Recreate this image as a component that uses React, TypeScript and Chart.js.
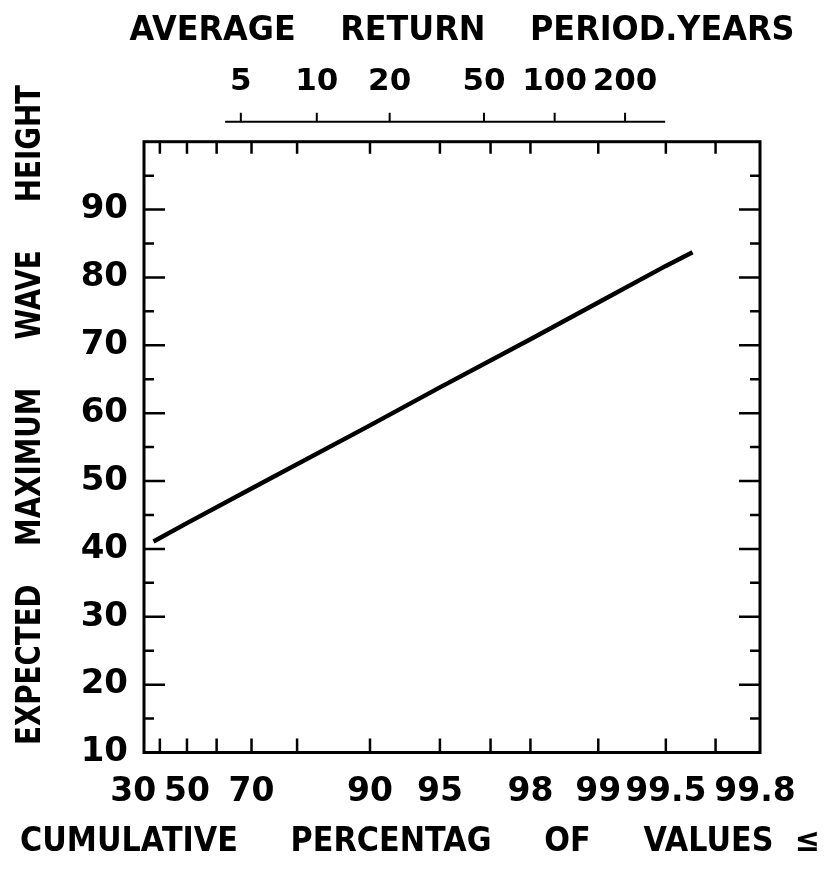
import { useEffect, useRef } from "react";
import { Chart, registerables } from "chart.js";

Chart.register(...registerables);

// Fitted line of expected maximum wave height, read at cumulative percentages
const cumulativePct = [37.6, 50, 70, 90, 95, 98, 99, 99.5, 99.62];
const waveHeight = [41.1, 43.8, 48.9, 58.2, 63.8, 70.9, 76.3, 81.7, 83.7];

// Probability-paper labels and tick marks
const percentLabels = [30, 50, 70, 90, 95, 98, 99, 99.5, 99.8];
const percentMarks = [40, 50, 60, 70, 80, 90, 95, 97, 98, 99, 99.5, 99.7];
const returnPeriods = [5, 10, 20, 50, 100, 200];
const heightTicks = [10, 20, 30, 40, 50, 60, 70, 80, 90];
const heightMarks = [15, 20, 25, 30, 35, 40, 45, 50, 55, 60, 65, 70, 75, 80, 85, 90, 95];

// Axis ranges
const percentRange = [34.0, 99.81];
const returnRange = [2.27, 757];
const returnLineSpan = [4.36, 297];
const heightRange = [10, 100];

const TOP_TITLE = "AVERAGE    RETURN    PERIOD.YEARS";
const BOTTOM_TITLE = "CUMULATIVE     PERCENTAG     OF     VALUES  \u2264";
const LEFT_TITLE = "EXPECTED    MAXIMUM     WAVE     HEIGHT";

// Gumbel reduced variate for a cumulative percentage / a return period
const gumbel = (pct: number) => -Math.log(-Math.log(pct / 100));
const gumbelT = (T: number) => -Math.log(-Math.log(1 - 1 / T));

const FAMILY = '"DejaVu Sans", sans-serif';
const INK = "#000";

const paperPlugin = {
  id: "paperFrame",
  afterDatasetsDraw(chart: any) {
    const { ctx, chartArea: a, scales } = chart;
    ctx.save();
    ctx.strokeStyle = INK;
    ctx.lineCap = "butt";
    ctx.lineWidth = 3;
    ctx.strokeRect(a.left, a.top, a.right - a.left, a.bottom - a.top);

    ctx.lineWidth = 2.5;
    ctx.beginPath();
    for (const p of percentMarks) {
      const x = scales.x.getPixelForValue(gumbel(p));
      ctx.moveTo(x, a.bottom);
      ctx.lineTo(x, a.bottom - 14);
      ctx.moveTo(x, a.top);
      ctx.lineTo(x, a.top + 12);
    }
    for (const v of heightMarks) {
      const y = scales.y.getPixelForValue(v);
      const len = v % 10 === 0 ? 21 : 10;
      ctx.moveTo(a.left, y);
      ctx.lineTo(a.left + len, y);
      ctx.moveTo(a.right, y);
      ctx.lineTo(a.right - len, y);
    }
    ctx.stroke();

    // return-period scale floating above the frame
    const x2 = scales.x2;
    const yLine = a.top - 20;
    ctx.lineWidth = 2;
    ctx.beginPath();
    ctx.moveTo(x2.getPixelForValue(gumbelT(returnLineSpan[0])), yLine);
    ctx.lineTo(x2.getPixelForValue(gumbelT(returnLineSpan[1])), yLine);
    for (const T of returnPeriods) {
      const x = x2.getPixelForValue(gumbelT(T));
      ctx.moveTo(x, yLine);
      ctx.lineTo(x, yLine - 9);
    }
    ctx.stroke();
    ctx.restore();
  },
  afterDraw(chart: any) {
    const { ctx } = chart;
    ctx.save();
    ctx.fillStyle = INK;
    ctx.font = `bold 33px ${FAMILY}`;
    ctx.textAlign = "center";
    ctx.textBaseline = "middle";
    ctx.fillText(TOP_TITLE, 462, 31, 665);
    ctx.fillText(BOTTOM_TITLE, 420, 842, 800);
    ctx.translate(31, 415);
    ctx.rotate(-Math.PI / 2);
    ctx.fillText(LEFT_TITLE, 0, 0, 660);
    ctx.restore();
  },
};

const font = (size: number) => ({ family: FAMILY, weight: "bold" as const, size });

export default function App() {
  const ref = useRef<HTMLCanvasElement>(null);

  useEffect(() => {
    const chart = new Chart(ref.current!, {
      type: "line",
      data: {
        datasets: [
          {
            data: cumulativePct.map((p, i) => ({ x: gumbel(p), y: waveHeight[i] })),
            borderColor: INK,
            borderWidth: 4.5,
            pointRadius: 0,
            tension: 0,
            xAxisID: "x",
            yAxisID: "y",
          },
        ],
      },
      options: {
        responsive: false,
        animation: false,
        devicePixelRatio: 1,
        layout: { padding: { left: 0, right: 71, top: 0, bottom: 0 } },
        plugins: { legend: { display: false }, tooltip: { enabled: false }, title: { display: false } },
        scales: {
          x: {
            type: "linear",
            position: "bottom",
            min: gumbel(percentRange[0]),
            max: gumbel(percentRange[1]),
            grid: { display: false },
            border: { display: false },
            afterBuildTicks: (s: any) => {
              s.ticks = percentLabels.map((p) => ({ value: gumbel(p) }));
            },
            afterFit: (s: any) => {
              s.height = 121.5;
            },
            ticks: {
              autoSkip: false,
              maxRotation: 0,
              minRotation: 0,
              padding: 12,
              color: INK,
              font: font(33),
              callback: (_v: any, i: number) => String(percentLabels[i]),
            },
          },
          x2: {
            type: "linear",
            position: "top",
            min: gumbelT(returnRange[0]),
            max: gumbelT(returnRange[1]),
            grid: { display: false },
            border: { display: false },
            afterBuildTicks: (s: any) => {
              s.ticks = returnPeriods.map((T) => ({ value: gumbelT(T) }));
            },
            afterFit: (s: any) => {
              s.height = 141.7;
            },
            ticks: {
              autoSkip: false,
              maxRotation: 0,
              minRotation: 0,
              padding: 33,
              color: INK,
              font: font(31),
              callback: (_v: any, i: number) => String(returnPeriods[i]),
            },
          },
          y: {
            type: "linear",
            position: "left",
            min: heightRange[0],
            max: heightRange[1],
            grid: { display: false },
            border: { display: false },
            afterBuildTicks: (s: any) => {
              s.ticks = heightTicks.map((v) => ({ value: v }));
            },
            afterFit: (s: any) => {
              s.width = 144;
            },
            ticks: {
              autoSkip: false,
              padding: 8,
              color: INK,
              font: font(34),
              callback: (v: any) => String(v),
            },
          },
        },
      },
      plugins: [paperPlugin],
    });
    return () => chart.destroy();
  }, []);

  return (
    <div style={{ position: "absolute", left: 0, top: 0, width: 831, height: 874, background: "#fff" }}>
      <canvas ref={ref} width={831} height={874} style={{ display: "block", width: 831, height: 874 }} />
    </div>
  );
}
